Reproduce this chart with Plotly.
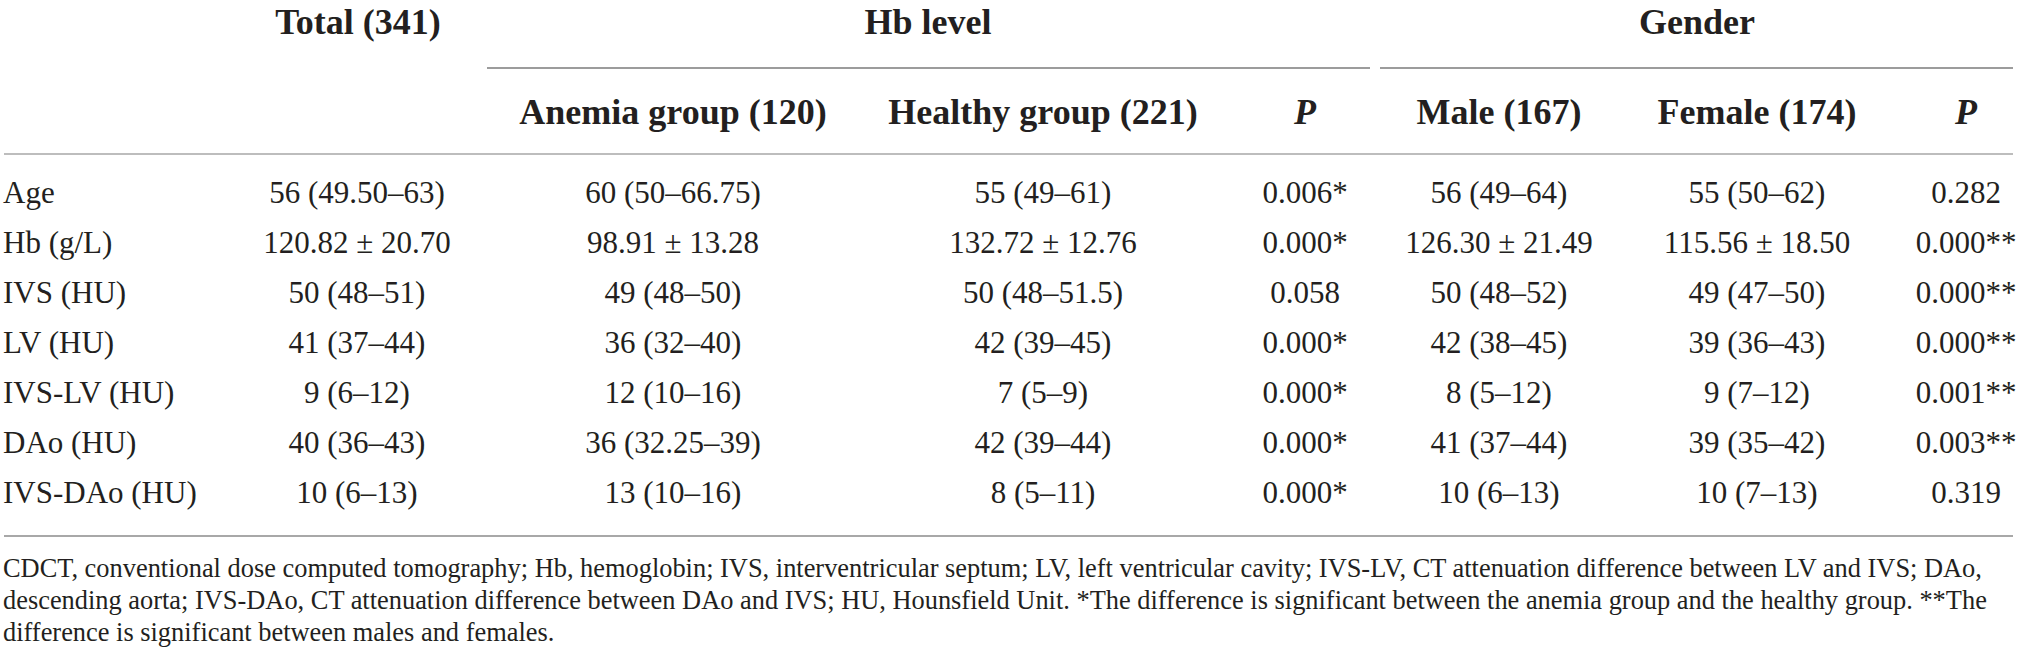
import plotly.graph_objects as go

# Table content
row_labels = ["Age", "Hb (g/L)", "IVS (HU)", "LV (HU)", "IVS-LV (HU)", "DAo (HU)", "IVS-DAo (HU)"]
total = ["56 (49.50–63)", "120.82 ± 20.70", "50 (48–51)", "41 (37–44)", "9 (6–12)", "40 (36–43)", "10 (6–13)"]
anemia = ["60 (50–66.75)", "98.91 ± 13.28", "49 (48–50)", "36 (32–40)", "12 (10–16)", "36 (32.25–39)", "13 (10–16)"]
healthy = ["55 (49–61)", "132.72 ± 12.76", "50 (48–51.5)", "42 (39–45)", "7 (5–9)", "42 (39–44)", "8 (5–11)"]
p_hb = ["0.006*", "0.000*", "0.058", "0.000*", "0.000*", "0.000*", "0.000*"]
male = ["56 (49–64)", "126.30 ± 21.49", "50 (48–52)", "42 (38–45)", "8 (5–12)", "41 (37–44)", "10 (6–13)"]
female = ["55 (50–62)", "115.56 ± 18.50", "49 (47–50)", "39 (36–43)", "9 (7–12)", "39 (35–42)", "10 (7–13)"]
p_gender = ["0.282", "0.000**", "0.000**", "0.000**", "0.001**", "0.003**", "0.319"]

group_headers = ["Total (341)", "Hb level", "Gender"]
sub_headers = ["Anemia group (120)", "Healthy group (221)", "<i>P</i>",
               "Male (167)", "Female (174)", "<i>P</i>"]

footnote = [
    "CDCT, conventional dose computed tomography; Hb, hemoglobin; IVS, interventricular septum; "
    "LV, left ventricular cavity; IVS-LV, CT attenuation difference between LV and IVS; DAo,",
    "descending aorta; IVS-DAo, CT attenuation difference between DAo and IVS; HU, Hounsfield Unit. "
    "*The difference is significant between the anemia group and the healthy group. **The",
    "difference is significant between males and females.",
]

# Layout (pixel units on the axes)
W, H = 2019, 662
FONT = "Liberation Serif"
INK = "#231f20"
LABEL_X = 3
COL_X = [357, 673, 1043, 1305, 1499, 1757, 1966]
GROUP_X = [358, 928, 1697]
GROUP_Y = 25
SUB_Y = 115
ROW_Y0 = 195
ROW_STEP = 50
NOTE_Y0 = 570
NOTE_STEP = 32

row_y = [ROW_Y0 + i * ROW_STEP for i in range(len(row_labels))]
note_y = [NOTE_Y0 + i * NOTE_STEP for i in range(len(footnote))]

fig = go.Figure()

cell_font = dict(family=FONT, size=31, color=INK)
head_font = dict(family=FONT, size=36, color=INK)

# group header row
fig.add_trace(go.Scatter(
    x=GROUP_X, y=[GROUP_Y] * 3, mode="text",
    text=[f"<b>{t}</b>" for t in group_headers],
    textposition="middle center", textfont=head_font,
    hoverinfo="skip", showlegend=False, cliponaxis=False))

# sub header row
fig.add_trace(go.Scatter(
    x=COL_X[1:], y=[SUB_Y] * len(sub_headers), mode="text",
    text=[f"<b>{t}</b>" for t in sub_headers],
    textposition="middle center", textfont=head_font,
    hoverinfo="skip", showlegend=False, cliponaxis=False))

# row labels
fig.add_trace(go.Scatter(
    x=[LABEL_X] * len(row_labels), y=row_y, mode="text",
    text=row_labels, textposition="middle right", textfont=cell_font,
    hoverinfo="skip", showlegend=False, cliponaxis=False))

# value columns
for cx, col in zip(COL_X, [total, anemia, healthy, p_hb, male, female, p_gender]):
    fig.add_trace(go.Scatter(
        x=[cx] * len(col), y=row_y, mode="text",
        text=col, textposition="middle center", textfont=cell_font,
        hoverinfo="skip", showlegend=False, cliponaxis=False))

# footnote
fig.add_trace(go.Scatter(
    x=[LABEL_X] * len(footnote), y=note_y, mode="text",
    text=footnote, textposition="middle right",
    textfont=dict(family=FONT, size=26.4, color=INK),
    hoverinfo="skip", showlegend=False, cliponaxis=False))

# rules: (x0, x1, y, colour)
rules = [
    (487, 1370, 68, "#9c9c9c"),
    (1380, 2013, 68, "#9c9c9c"),
    (4, 2013, 154, "#bdbdbd"),
    (4, 2013, 536, "#a8a8a8"),
]
for x0, x1, y, c in rules:
    fig.add_shape(type="line", x0=x0, x1=x1, y0=y, y1=y, xref="x", yref="y",
                  line=dict(color=c, width=2))

fig.update_layout(
    width=W, height=H,
    margin=dict(l=0, r=0, t=0, b=0),
    paper_bgcolor="white", plot_bgcolor="white",
    xaxis=dict(range=[0, W], visible=False, fixedrange=True),
    yaxis=dict(range=[H, 0], visible=False, fixedrange=True),
)

# drop the browser's default 8px body margin so the figure fills the window
fig.write_html(
    "out.html",
    config={"displayModeBar": False},
    post_script="document.body.style.margin='0';document.body.style.overflow='hidden';",
)
